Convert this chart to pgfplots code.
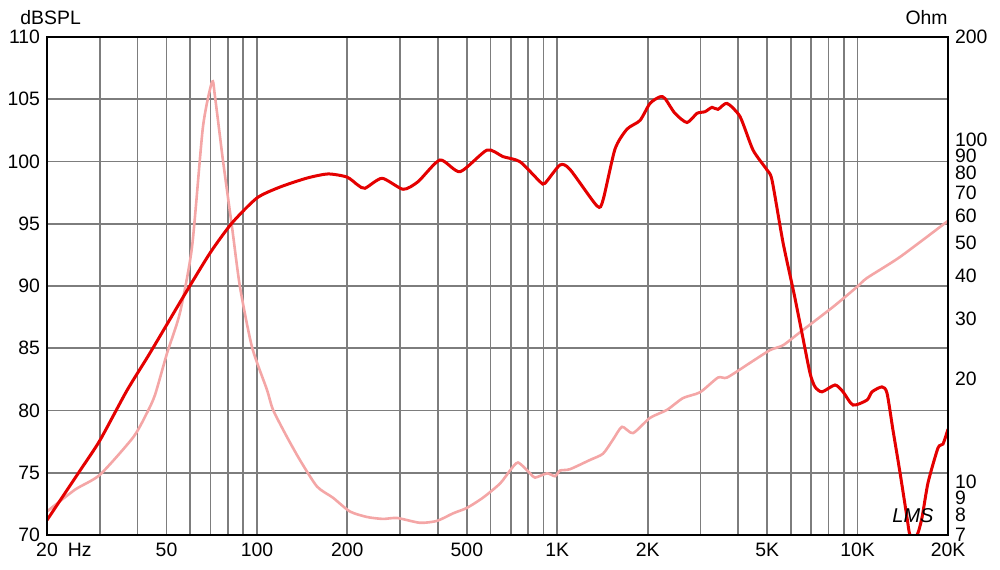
\documentclass[border=0pt]{standalone}
\usepackage{fontspec}
\setmainfont{Liberation Sans}
\usepackage{pgfplots}
\pgfplotsset{compat=1.18}
\pgfplotsset{/pgf/number format/assume math mode=true}

\definecolor{splred}{RGB}{228,0,0}
\definecolor{impink}{RGB}{244,166,166}
\definecolor{gridgray}{RGB}{125,125,125}

\begin{document}
\begin{tikzpicture}
% grid and tick labels (dB axis)
\begin{axis}[
  scale only axis, width=450.5pt, height=249pt,
  at={(0,0)}, anchor=south west,
  xmode=log, xmin=20, xmax=20000,
  ymin=70, ymax=110,
  major tick length=0pt,
  tick label style={font=\fontsize{9.7}{11}\selectfont},
  ytick={70,75,...,110},
  xtick={20,30,40,50,60,70,80,90,100,200,300,400,500,600,700,800,900,1000,
         2000,3000,4000,5000,6000,7000,8000,9000,10000,20000},
  xticklabels={{20\rlap{\hspace{5pt}Hz}},,,50,,,,,100,200,,,500,,,,,1K,2K,,,5K,,,,,10K,20K},
  xticklabel style={yshift=-0.5pt},
  grid=major,
  major grid style={color=gridgray, line width=0.85pt},
  axis line style={draw=none},
]
\addplot[draw=none] coordinates {(20,70) (20000,70)};
\end{axis}

% impedance (Ohm, right axis)
\begin{axis}[
  scale only axis, width=450.5pt, height=249pt,
  at={(0,0)}, anchor=south west,
  xmode=log, xmin=20, xmax=20000,
  ymode=log, ymin=7, ymax=200,
  major tick length=0pt,
  tick label style={font=\fontsize{9.7}{11}\selectfont},
  axis x line=none,
  axis y line*=right,
  axis line style={draw=none},
  ytick={7,8,9,10,20,30,40,50,60,70,80,90,100,200},
  yticklabels={7,8,9,10,20,30,40,50,60,70,80,90,100,200},
]
\addplot[color=impink, line width=1.3pt, smooth, tension=0.4] coordinates {
 (20,8.2) (24.8,9.5) (30,10.5) (38.7,13.5) (43,15.9) (45.8,18.0) (50.2,23.8)
 (55.4,31.2) (60.8,48.7) (66.1,109) (70.9,148) (72.5,134) (77.1,87) (82.6,55.7)
 (87.8,37.2) (96.3,24.8) (108,18.6) (113,16.3) (125,13.7) (139,11.6) (158.5,9.7)
 (179,9.0) (204,8.2) (233,7.9) (263,7.8) (293,7.85) (349,7.6) (398,7.7)
 (450,8.1) (500,8.4) (566,9.0) (645,9.9) (696,10.8) (740,11.4) (812,10.6)
 (843,10.3) (925,10.6) (983,10.4) (1021,10.8) (1102,10.9) (1285,11.6)
 (1420,12.1) (1533,13.3) (1643,14.5) (1787,13.9) (2036,15.4) (2319,16.25)
 (2623,17.6) (2988,18.3) (3429,20.2) (3675,20.2) (4383,22.3) (5110,24.3)
 (5644,25.1) (6429,27.4) (8282,32.5) (9957,37.2) (10748,39.5) (13844,45.5)
 (20000,58)
};
\end{axis}

% SPL (dB axis) with frame on top
\begin{axis}[
  scale only axis, width=450.5pt, height=249pt,
  at={(0,0)}, anchor=south west,
  xmode=log, xmin=20, xmax=20000,
  ymin=70, ymax=110,
  xtick=\empty, ytick=\empty,
  axis on top,
  axis line style={line width=1.3pt, color=black},
]
\addplot[color=splred, line width=1.5pt, smooth, tension=0.4] coordinates {
 (20,71.2) (25.8,75.2) (30,77.6) (36.9,81.6) (44,84.6) (56.75,89.1)
 (69.8,92.65) (82.6,95.06) (100,97.07) (119.4,97.95) (146.8,98.67)
 (172.5,99.0) (199.5,98.75) (217,98.1) (229,97.85) (261,98.65) (306.6,97.77)
 (343.9,98.38) (407,100.12) (474.6,99.18) (583.7,100.92) (660,100.39)
 (751.6,99.98) (876,98.38) (910,98.25) (1021,99.72) (1102,99.37)
 (1356,96.43) (1420,96.9) (1557,101.0) (1707,102.6) (1886,103.3)
 (2036,104.67) (2198,105.2) (2283,105.07) (2465,103.87) (2704,103.13)
 (2920,103.87) (3104,104.0) (3275,104.35) (3429,104.19) (3675,104.67)
 (4061,103.6) (4486,100.92) (4993,99.32) (5189,98.5) (5644,93.5)
 (6141,89.4) (6530,86.2) (6943,83.0) (7215,81.9) (7613,81.5) (8413,82.05)
 (8943,81.5) (9653,80.44) (10748,80.84) (11168,81.5) (12058,81.9)
 (12529,81.4) (13120,78.4) (13844,75.0) (14607,71.4) (14947,70.0)
 (15772,70.0) (16386,71.4) (17159,74.2) (18527,77.0) (19240,77.3)
 (20000,78.5)
};
\end{axis}

\node[anchor=base west, inner sep=0pt, font=\fontsize{9.7}{11}\selectfont] at (-13.5pt,255pt) {dBSPL};
\node[anchor=base east, inner sep=0pt, font=\fontsize{9.7}{11}\selectfont] at (450.5pt,255pt) {Ohm};
\node[inner sep=0pt, font=\fontsize{10}{11}\selectfont\itshape] at (433pt,9.5pt) {LMS};

\path[use as bounding box] (-23.5pt,-17pt) rectangle (476.5pt,267.5pt);
\end{tikzpicture}
\end{document}
